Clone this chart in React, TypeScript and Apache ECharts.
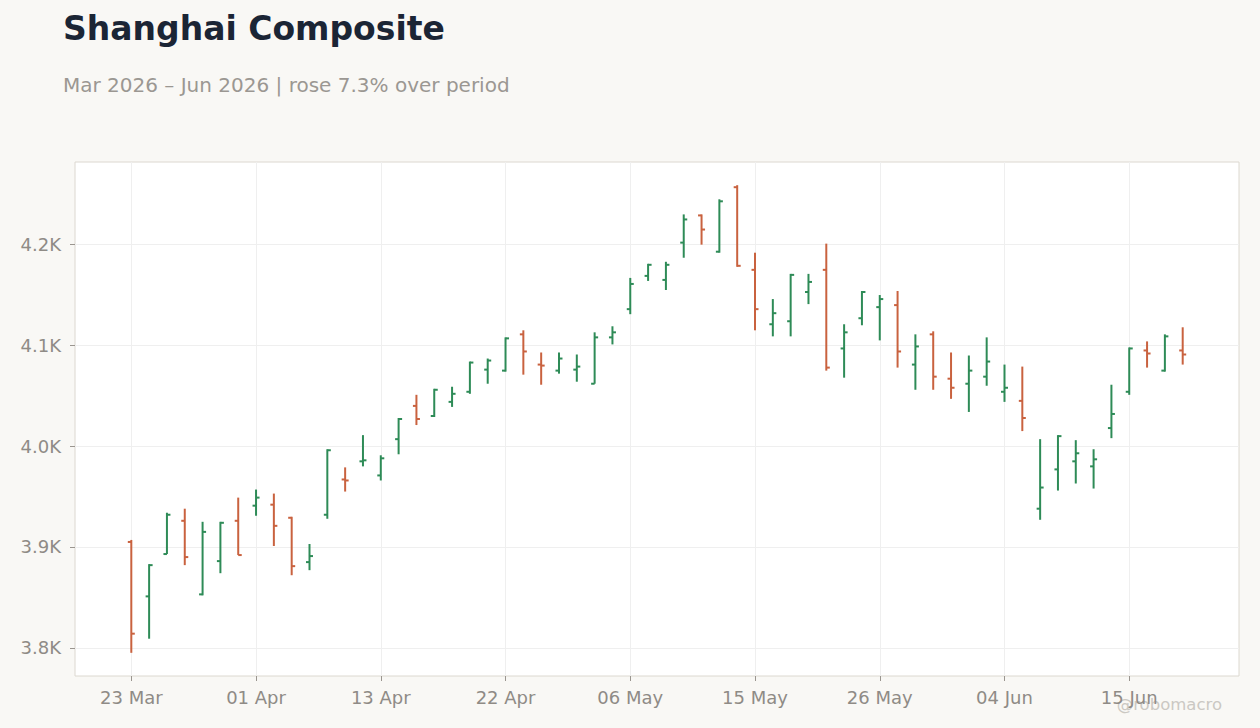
import React, { useEffect, useRef } from 'react';
import * as echarts from 'echarts';

const dates = [
  '23 Mar', '24 Mar', '25 Mar', '26 Mar', '27 Mar', '30 Mar', '31 Mar',
  '01 Apr', '02 Apr', '03 Apr', '07 Apr', '08 Apr', '09 Apr', '10 Apr',
  '13 Apr', '14 Apr', '15 Apr', '16 Apr', '17 Apr', '20 Apr', '21 Apr',
  '22 Apr', '23 Apr', '24 Apr', '27 Apr', '28 Apr', '29 Apr', '30 Apr',
  '06 May', '07 May', '08 May', '11 May', '12 May', '13 May', '14 May',
  '15 May', '18 May', '19 May', '20 May', '21 May', '22 May', '25 May',
  '26 May', '27 May', '28 May', '29 May', '01 Jun', '02 Jun', '03 Jun',
  '04 Jun', '05 Jun', '08 Jun', '09 Jun', '10 Jun', '11 Jun', '12 Jun',
  '15 Jun', '16 Jun', '17 Jun', '18 Jun',
];

const open = [
  3905, 3851, 3893, 3926, 3853, 3886, 3926, 3941, 3942, 3929, 3885, 3932,
  3967, 3985, 3971, 4007, 4040, 4030, 4044, 4054, 4076, 4075, 4111, 4081,
  4075, 4076, 4062, 4108, 4136, 4169, 4165, 4202, 4229, 4193, 4257, 4175,
  4121, 4124, 4153, 4175, 4097, 4127, 4138, 4140, 4081, 4111, 4067, 4062,
  4069, 4054, 4045, 3938, 3977, 3985, 3980, 4018, 4054, 4095, 4075, 4095,
];
const high = [
  3907, 3883, 3934, 3938, 3925, 3925, 3949, 3957, 3953, 3930, 3903, 3997,
  3979, 4011, 3991, 4028, 4051, 4057, 4059, 4084, 4087, 4108, 4115, 4093,
  4093, 4091, 4113, 4119, 4167, 4181, 4183, 4230, 4230, 4245, 4259, 4192,
  4146, 4171, 4171, 4201, 4121, 4154, 4150, 4154, 4111, 4114, 4093, 4090,
  4108, 4081, 4079, 4007, 4011, 4006, 3997, 4061, 4098, 4104, 4111, 4118,
];
const low = [
  3795, 3809, 3893, 3882, 3852, 3874, 3892, 3931, 3901, 3872, 3877, 3928,
  3955, 3980, 3966, 3992, 4021, 4029, 4039, 4052, 4062, 4074, 4071, 4061,
  4072, 4064, 4062, 4101, 4131, 4164, 4155, 4187, 4200, 4192, 4178, 4115,
  4109, 4109, 4141, 4075, 4068, 4120, 4105, 4078, 4056, 4056, 4047, 4034,
  4060, 4044, 4015, 3927, 3956, 3963, 3958, 4008, 4051, 4078, 4074, 4081,
];
const close = [
  3814, 3882, 3932, 3890, 3915, 3924, 3892, 3949, 3921, 3881, 3891, 3996,
  3966, 3986, 3988, 4027, 4027, 4056, 4052, 4083, 4085, 4107, 4094, 4080,
  4087, 4079, 4108, 4113, 4161, 4180, 4180, 4225, 4215, 4243, 4179, 4136,
  4132, 4170, 4163, 4078, 4113, 4153, 4146, 4094, 4099, 4069, 4058, 4075,
  4084, 4058, 4028, 3959, 4010, 3993, 3987, 4032, 4097, 4092, 4109, 4091,
];

const yTicks = [3800, 3900, 4000, 4100, 4200];

const UP = '#2e8b57';
const DOWN = '#c9623f';
const FONT = 'DejaVu Sans';
const LABEL = '#8f8b86';

const App: React.FC = () => {
  const chartRef = useRef<HTMLDivElement>(null);

  useEffect(() => {
    document.body.style.margin = '0';
    if (!chartRef.current) return;
    const chart = echarts.init(chartRef.current, undefined, { renderer: 'svg' });

    // OHLC bar: high-low stem, open tick on the left, close tick on the right
    const renderItem = (params: any, api: any) => {
      const idx = api.value(0);
      const o = api.value(1);
      const h = api.value(2);
      const l = api.value(3);
      const c = api.value(4);
      const [x, yh] = api.coord([idx, h]);
      const yl = api.coord([idx, l])[1];
      const yo = api.coord([idx, o])[1];
      const yc = api.coord([idx, c])[1];
      const style = { stroke: c >= o ? UP : DOWN, lineWidth: 2 };
      return {
        type: 'group',
        children: [
          { type: 'line', shape: { x1: x, y1: yh, x2: x, y2: yl }, style },
          { type: 'line', shape: { x1: x - 3.5, y1: yo, x2: x, y2: yo }, style },
          { type: 'line', shape: { x1: x, y1: yc, x2: x + 3.5, y2: yc }, style },
        ],
      };
    };

    const option = {
      animation: false,
      backgroundColor: '#f9f8f5',
      textStyle: { fontFamily: FONT },
      title: [
        {
          text: 'Shanghai Composite',
          left: 58,
          top: 7,
          textStyle: { fontSize: 33, fontWeight: 'bold', color: '#1b2535', fontFamily: FONT },
        },
        {
          text: 'Mar 2026 – Jun 2026 | rose 7.3% over period',
          left: 58,
          top: 70,
          textStyle: { fontSize: 20, fontWeight: 'normal', color: '#9b9792', fontFamily: FONT },
        },
      ],
      graphic: [
        {
          type: 'text',
          right: 38,
          top: 696,
          style: { text: '@robomacro', font: `16.5px "${FONT}"`, fill: '#cbc8c3' },
        },
      ],
      grid: [
        {
          left: 75,
          top: 162,
          right: 21,
          bottom: 52,
          show: true,
          backgroundColor: '#ffffff',
          borderColor: '#dcd8d0',
          borderWidth: 1,
        },
        {
          left: 131.3,
          top: 162,
          right: 77.3,
          bottom: 52,
        },
      ],
      xAxis: [
        { type: 'value', gridIndex: 0, min: 0, max: 1, show: false },
        {
          type: 'category',
          gridIndex: 1,
          data: dates,
          boundaryGap: false,
          axisLine: { show: false },
          axisTick: {
            show: true,
            interval: 6,
            length: 5,
            lineStyle: { color: '#9a958f' },
          },
          axisLabel: {
            interval: 6,
            margin: 12,
            color: LABEL,
            fontSize: 18,
            fontFamily: FONT,
          },
          splitLine: {
            show: true,
            interval: 6,
            lineStyle: { color: '#efefef', width: 1 },
          },
        },
      ],
      yAxis: [
        {
          type: 'value',
          gridIndex: 0,
          min: 3772,
          max: 4282,
          axisLine: { show: false },
          axisTick: {
            show: true,
            length: 5,
            customValues: yTicks,
            lineStyle: { color: '#9a958f' },
          },
          axisLabel: {
            customValues: yTicks,
            margin: 14,
            color: LABEL,
            fontSize: 18,
            fontFamily: FONT,
            formatter: (v: number) => `${(v / 1000).toFixed(1)}K`,
          },
          splitLine: { show: true, lineStyle: { color: '#efefef', width: 1 } },
        },
        { type: 'value', gridIndex: 1, min: 3772, max: 4282, show: false },
      ],
      series: [
        {
          type: 'custom',
          xAxisIndex: 1,
          yAxisIndex: 1,
          clip: false,
          renderItem,
          dimensions: ['idx', 'open', 'high', 'low', 'close'],
          encode: { x: 0, y: [1, 2, 3, 4] },
          data: dates.map((_, i) => [i, open[i], high[i], low[i], close[i]]),
        },
      ],
    };

    chart.setOption(option);
    return () => {
      chart.dispose();
    };
  }, []);

  return <div ref={chartRef} style={{ width: 1260, height: 728 }} />;
};

export default App;
